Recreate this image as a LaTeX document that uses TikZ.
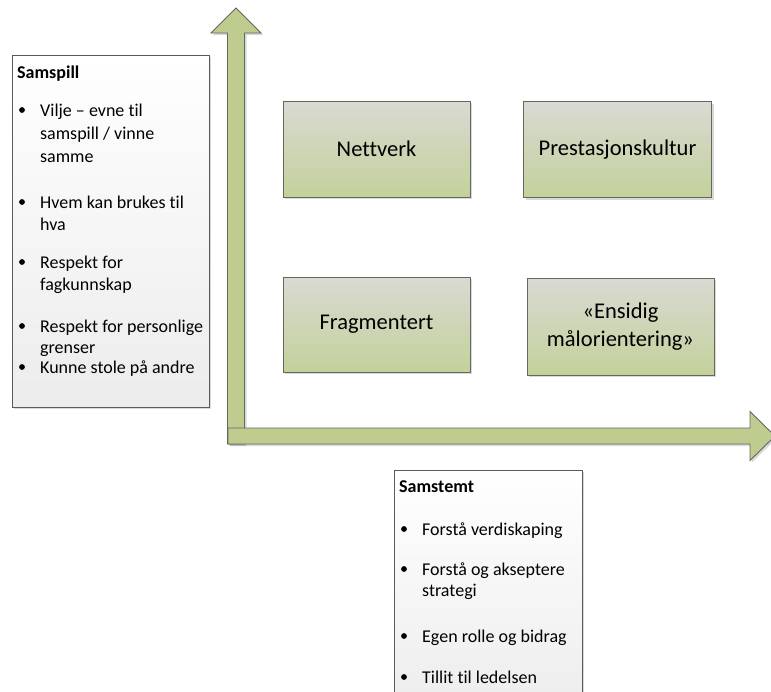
\documentclass[tikz,border=0pt]{standalone}
\usepackage{fontspec}
\setmainfont{Carlito}[Ligatures=NoCommon]
\usetikzlibrary{shadows}
\definecolor{axisfill}{RGB}{190,204,143}
\definecolor{axisline}{RGB}{100,104,94}
\definecolor{quadtop}{RGB}{217,218,211}
\definecolor{quadbot}{RGB}{195,209,155}
\definecolor{panelbot}{RGB}{236,236,236}
\definecolor{frame}{RGB}{90,90,90}

\begin{document}
\begin{tikzpicture}[x=1pt,y=-1pt,
  softshadow/.style={drop shadow={shadow xshift=2pt,shadow yshift=-2pt,opacity=0.25,fill=black!60}},
  axisarrow/.style={fill=axisfill,draw=axisline,line width=0.9pt,line join=miter,softshadow},
  quad/.style={draw=axisline, line width=0.9pt, top color=quadtop, bottom color=quadbot,
    minimum width=187pt, minimum height=96pt, inner sep=0pt, align=center,
    font=\fontsize{22.5}{27.5}\selectfont, softshadow},
  panel/.style={draw=frame, line width=0.9pt, top color=white, bottom color=panelbot,
    inner sep=0pt, softshadow},
  txt/.style={anchor=base west, inner sep=0pt, font=\fontsize{18}{22.5}\selectfont},
  headtxt/.style={txt, font=\fontsize{18}{22.5}\selectfont\bfseries},
  dot/.style={circle, fill=black, inner sep=0pt, minimum size=5.8pt},
]
\useasboundingbox (0,0) rectangle (771,691);

% text panels
\node[panel, minimum width=197pt, minimum height=352pt] (samspill) at (110.5,231) {};
\node[panel, minimum width=188pt, minimum height=250pt] (samstemt) at (488,595) {};

% vertical axis arrow
\draw[axisarrow] (227.5,444) -- (227.5,33) -- (211,33) -- (236,8) -- (261,33)
  -- (244.5,33) -- (244.5,444) -- cycle;
% horizontal axis arrow
\draw[axisarrow] (228,428) -- (750,428) -- (750,411.5) -- (775,436) -- (750,460.5)
  -- (750,444) -- (228,444) -- cycle;

% quadrants
\node[quad] (nettverk) at (376.5,149) {Nettverk};
\node[quad, minimum width=188pt] (prestasjon) at (617.5,149.5) {Prestasjonskultur};
\node[quad, minimum height=95pt] (fragmentert) at (376.5,324.5) {Fragmentert};
\node[quad, minimum height=97pt] (ensidig) at (620.5,326.5) {«Ensidig\\målorientering»};

% Samspill list
\node[headtxt] (samspillhead) at (17,78) {Samspill};
\foreach \yy/\tt [count=\i] in {116/{Vilje – evne til}, 139/{samspill / vinne}, 162/{samme},
    208/{Hvem kan brukes til}, 230/{hva}, 268/{Respekt for}, 290/{fagkunnskap},
    332/{Respekt for personlige}, 353/{grenser}, 373/{Kunne stole på andre}}
  \node[txt] (sl\i) at (40,\yy) {\tt};
\foreach \yy [count=\i] in {110,202,262,326,367}
  \node[dot] (sb\i) at (22,\yy) {};

% Samstemt list
\node[headtxt] (samstemthead) at (399,492) {Samstemt};
\foreach \yy/\tt [count=\i] in {535/{Forstå verdiskaping}, 575/{Forstå og akseptere},
    596/{strategi}, 642/{Egen rolle og bidrag}, 683/{Tillit til ledelsen}}
  \node[txt] (tl\i) at (422,\yy) {\tt};
\foreach \yy [count=\i] in {529,569,636,677}
  \node[dot] (tb\i) at (404,\yy) {};
\end{tikzpicture}
\end{document}
